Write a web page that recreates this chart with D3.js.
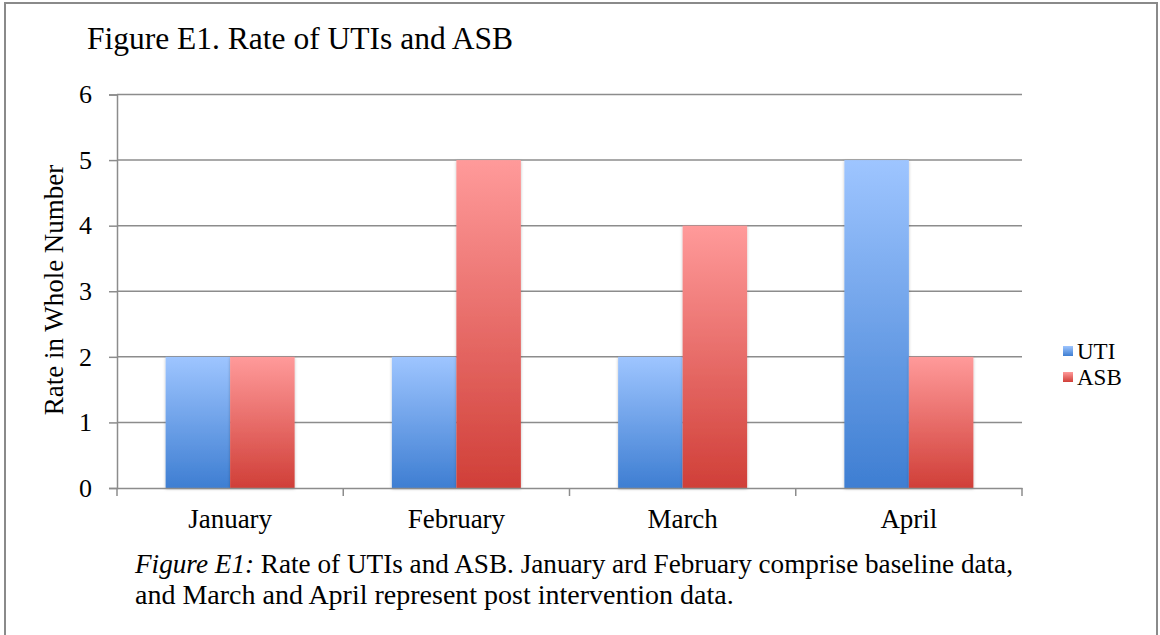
<!DOCTYPE html>
<html>
<head>
<meta charset="utf-8">
<script src="https://cdn.jsdelivr.net/npm/d3@7"></script>
<style>
body{margin:0;background:#fff;}
svg text{font-family:"Liberation Serif","Times New Roman",serif;fill:#000;}
</style>
</head>
<body>
<div id="chart"></div>
<script>
//Data;
const months=["January","February","March","April"];
const series=["UTI","ASB"];
const utiVals=[2,2,2,5];
const asbVals=[2,5,4,2];
const yTicks=[0,1,2,3,4,5,6];

const w=1160;
const h=635;

const svg=d3.select("#chart")
			.append("svg")
			  .attr("width",w)
			  .attr("height",h);

//Gradients and shadow;
const defs=svg.append("defs");
const grads={UTI:["#9ec5ff","#3e7ed2"],ASB:["#ff9a9a","#d03f38"]};
series.forEach(function(s){
	const g=defs.append("linearGradient")
				.attr("id","grad"+s)
				.attr("x1",0).attr("y1",0)
				.attr("x2",0).attr("y2",1);
	g.append("stop").attr("offset","0%").attr("stop-color",grads[s][0]);
	g.append("stop").attr("offset","100%").attr("stop-color",grads[s][1]);
});
defs.append("filter")
	.attr("id","shadow")
	.attr("x","-20%").attr("y","-5%").attr("width","140%").attr("height","110%")
  .append("feDropShadow")
	.attr("dx",0).attr("dy",1)
	.attr("stdDeviation",1.5)
	.attr("flood-color","#000")
	.attr("flood-opacity",0.25);

//Outer frame;
svg.append("rect")
   .attr("x",5).attr("y",3)
   .attr("width",1152).attr("height",h+10)
   .attr("fill","none")
   .attr("stroke","#8a8a8a")
   .attr("stroke-width",2);

//Scales;
const x0=d3.scaleBand()
		   .domain(months)
		   .range([117,1022]);
const x1=d3.scaleBand()
		   .domain(series)
		   .range([0,x0.bandwidth()])
		   .paddingOuter(0.754);
const y=d3.scaleLinear()
		  .domain([0,6])
		  .range([488,94.5]);

//Gridlines;
svg.append("g")
   .selectAll("line")
   .data(yTicks.filter(function(d){ return d>0; }))
   .enter()
 .append("line")
   .attr("x1",117).attr("x2",1022)
   .attr("y1",function(d){ return y(d); })
   .attr("y2",function(d){ return y(d); })
   .attr("stroke","#8c8c8c")
   .attr("stroke-width",1.5);

//Bars;
const data=months.map(function(m,i){ return {month:m,UTI:utiVals[i],ASB:asbVals[i]}; });
svg.append("g")
   .selectAll("g")
   .data(data)
   .enter()
 .append("g")
   .attr("transform",function(d){ return "translate("+x0(d.month)+",0)"; })
   .selectAll("rect")
   .data(function(d){ return series.map(function(s){ return {key:s,value:d[s]}; }); })
   .enter()
 .append("rect")
   .attr("x",function(d){ return x1(d.key); })
   .attr("width",x1.bandwidth())
   .attr("y",function(d){ return y(d.value); })
   .attr("height",function(d){ return y(0)-y(d.value); })
   .attr("fill",function(d){ return "url(#grad"+d.key+")"; })
   .attr("filter","url(#shadow)");

//Y Axis;
const yAxis=d3.axisLeft(y)
			  .tickValues(yTicks)
			  .tickSize(8)
			  .tickPadding(17)
			  .tickFormat(d3.format("d"));
const yg=svg.append("g")
			.attr("transform","translate(117,0)")
			.call(yAxis);
yg.select(".domain").attr("stroke","#8c8c8c").attr("stroke-width",1.5);
yg.selectAll(".tick line").attr("stroke","#8c8c8c").attr("stroke-width",1.5);
yg.selectAll(".tick text").style("font-size","26px").attr("fill","#000");

//X Axis;
const xAxis=d3.axisBottom(x0)
			  .tickSize(0)
			  .tickPadding(21);
const xg=svg.append("g")
			.attr("transform","translate(0,488)")
			.call(xAxis);
xg.select(".domain").attr("stroke","#8c8c8c").attr("stroke-width",1.5);
xg.selectAll(".tick text").style("font-size","27px").attr("fill","#000");
//Category boundary ticks;
xg.selectAll(".bound")
  .data(d3.range(months.length+1))
  .enter()
.append("line")
  .attr("class","bound")
  .attr("x1",function(i){ return 117+i*x0.step(); })
  .attr("x2",function(i){ return 117+i*x0.step(); })
  .attr("y1",0).attr("y2",8)
  .attr("stroke","#8c8c8c")
  .attr("stroke-width",1.5);

//Title;
svg.append("text")
   .attr("x",87).attr("y",49)
   .style("font-size","31.5px")
   .text("Figure E1. Rate of UTIs and ASB");

//Y Label;
svg.append("text")
   .attr("transform","translate(63,290) rotate(-90)")
   .attr("text-anchor","middle")
   .style("font-size","27px")
   .text("Rate in Whole Number");

//Legend;
const leg=svg.append("g")
			 .selectAll("g")
			 .data(series)
			 .enter()
		   .append("g")
			 .attr("transform",function(d,i){ return "translate(1063,"+(359+i*26)+")"; });
leg.append("rect")
   .attr("x",0).attr("y",-13)
   .attr("width",10).attr("height",10)
   .attr("fill",function(d){ return "url(#grad"+d+")"; });
leg.append("text")
   .attr("x",14).attr("y",0)
   .style("font-size","23px")
   .text(function(d){ return d; });

//Caption;
const cap1=svg.append("text")
			  .attr("x",135).attr("y",573)
			  .attr("textLength",878)
			  .attr("lengthAdjust","spacingAndGlyphs")
			  .style("font-size","28px");
cap1.append("tspan").style("font-style","italic").text("Figure E1:");
cap1.append("tspan").text(" Rate of UTIs and ASB. January ard February comprise baseline data,");
svg.append("text")
   .attr("x",135).attr("y",604)
   .style("font-size","28px")
   .text("and March and April represent post intervention data.");
</script>
</body>
</html>
